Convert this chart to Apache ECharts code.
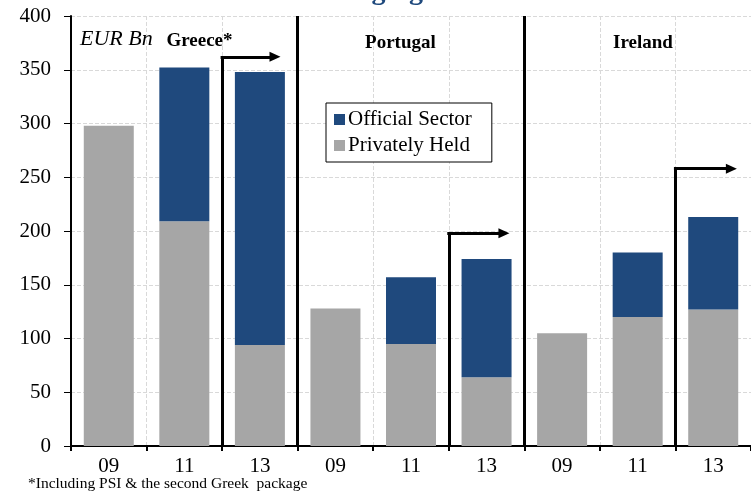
<!DOCTYPE html>
<html>
<head>
<meta charset="utf-8">
<script src="https://cdn.jsdelivr.net/npm/echarts@6/dist/echarts.min.js"></script>
<style>
  html, body { margin: 0; padding: 0; background: #fff; }
  #chart { width: 751px; height: 493px; }
</style>
</head>
<body>
<div id="chart"></div>
<script>
// Debt stock by holder, EUR bn
const categories = ['09', '11', '13', '09', '11', '13', '09', '11', '13'];
const privatelyHeld = [298, 209, 94, 128, 95, 64, 105, 120, 127];
const officialSector = [null, 143, 254, null, 62, 110, null, 60, 86];

// Country groups and the "shift" brackets (category-boundary units)
const countryNames = ['Greece*', 'Portugal', 'Ireland'];
const groupSeparators = [3, 6];
const bracketFrom = [2, 5, 8];
const bracketLevel = [362, 198, 258];
const arrowTip = [2.7, 5.73, 8.74];

const SERIF = '"Liberation Serif", "DejaVu Serif", serif';
const GREY = '#a6a6a6';
const BLUE = '#1f497d';

const chart = echarts.init(document.getElementById('chart'), null, { renderer: 'canvas' });

const bracketLines = [];
bracketFrom.forEach((x, i) => {
  bracketLines.push([{ coord: [x, 0], symbol: 'none' }, { coord: [x, bracketLevel[i]], symbol: 'none' }]);
  bracketLines.push([
    { coord: [x - 0.02, bracketLevel[i]], symbol: 'none' },
    { coord: [arrowTip[i], bracketLevel[i]], symbol: 'triangle', symbolSize: [10, 11] }
  ]);
});

const groupLabel = (size, weight, style) => ({
  fontSize: size, fontWeight: weight, fontStyle: style, color: '#000', fontFamily: SERIF
});

const labelPoints = [
  { value: [0.6, 378], label: Object.assign({ formatter: 'EUR Bn' }, groupLabel(22, 'normal', 'italic')) },
  { value: [1.7, 377], label: Object.assign({ formatter: countryNames[0] }, groupLabel(19, 'bold', 'normal')) },
  { value: [4.36, 375], label: Object.assign({ formatter: countryNames[1] }, groupLabel(19, 'bold', 'normal')) },
  { value: [7.57, 375], label: Object.assign({ formatter: countryNames[2] }, groupLabel(19, 'bold', 'normal')) }
];

chart.setOption({
  animation: false,
  backgroundColor: '#fff',
  title: {
    text: 'Debt changing hands',
    left: 'center',
    top: -27,
    textStyle: { fontFamily: SERIF, fontSize: 28, fontWeight: 'bold', color: BLUE, lineHeight: 28 }
  },
  grid: { left: 71, right: 0, top: 16, bottom: 47, containLabel: false },
  legend: {
    data: ['Official Sector', 'Privately Held'],
    orient: 'vertical',
    left: 326,
    top: 103,
    backgroundColor: '#fff',
    borderColor: '#000',
    borderWidth: 1,
    borderRadius: 0,
    padding: [6, 20, 6, 8],
    itemGap: 5,
    itemWidth: 11,
    itemHeight: 11,
    icon: 'rect',
    selectedMode: false,
    textStyle: { fontFamily: SERIF, fontSize: 21, color: '#000', padding: [0, 0, 0, -2] }
  },
  xAxis: [
    {
      type: 'category',
      data: categories,
      axisLine: { lineStyle: { color: '#000', width: 2 } },
      axisTick: { show: true, length: 5, lineStyle: { color: '#000', width: 2 } },
      axisLabel: { fontFamily: SERIF, fontSize: 21, color: '#000', margin: 10 },
      splitLine: { show: true, lineStyle: { color: '#d9d9d9', type: 'dashed', width: 1 } }
    },
    { type: 'value', min: 0, max: 9, show: false, splitLine: { show: false } }
  ],
  yAxis: {
    type: 'value',
    min: 0,
    max: 400,
    interval: 50,
    axisLine: { show: true, lineStyle: { color: '#000', width: 2 } },
    axisTick: { show: true, length: 7, lineStyle: { color: '#000', width: 1 } },
    axisLabel: { fontFamily: SERIF, fontSize: 21, color: '#000', margin: 20 },
    splitLine: { show: true, lineStyle: { color: '#d9d9d9', type: 'dashed', width: 1 } }
  },
  series: [
    {
      name: 'Privately Held',
      type: 'bar',
      stack: 'debt',
      data: privatelyHeld,
      barWidth: 50,
      itemStyle: { color: GREY },
      emphasis: { disabled: true }
    },
    {
      name: 'Official Sector',
      type: 'bar',
      stack: 'debt',
      data: officialSector,
      barWidth: 50,
      itemStyle: { color: BLUE },
      emphasis: { disabled: true }
    },
    {
      name: 'separators',
      type: 'line',
      xAxisIndex: 1,
      data: [],
      silent: true,
      markLine: {
        silent: true,
        symbol: 'none',
        label: { show: false },
        lineStyle: { color: '#000', width: 3, type: 'solid' },
        emphasis: { disabled: true },
        data: groupSeparators.map(x => ({ xAxis: x }))
      }
    },
    {
      name: 'brackets',
      type: 'line',
      xAxisIndex: 1,
      data: [],
      silent: true,
      markLine: {
        silent: true,
        label: { show: false },
        lineStyle: { color: '#000', width: 3, type: 'solid' },
        itemStyle: { color: '#000' },
        emphasis: { disabled: true },
        data: bracketLines
      }
    },
    {
      name: 'groupLabels',
      type: 'scatter',
      xAxisIndex: 1,
      symbolSize: 0,
      silent: true,
      itemStyle: { opacity: 1 },
      data: labelPoints,
      label: {
        show: true,
        position: 'inside',
        fontFamily: SERIF,
        color: '#000'
      }
    }
  ],
  graphic: [
    {
      type: 'text',
      left: 28,
      top: 476,
      style: {
        text: '*Including PSI & the second Greek  package',
        font: '15.5px "Liberation Serif", serif',
        fill: '#000'
      }
    }
  ]
});
</script>
</body>
</html>
